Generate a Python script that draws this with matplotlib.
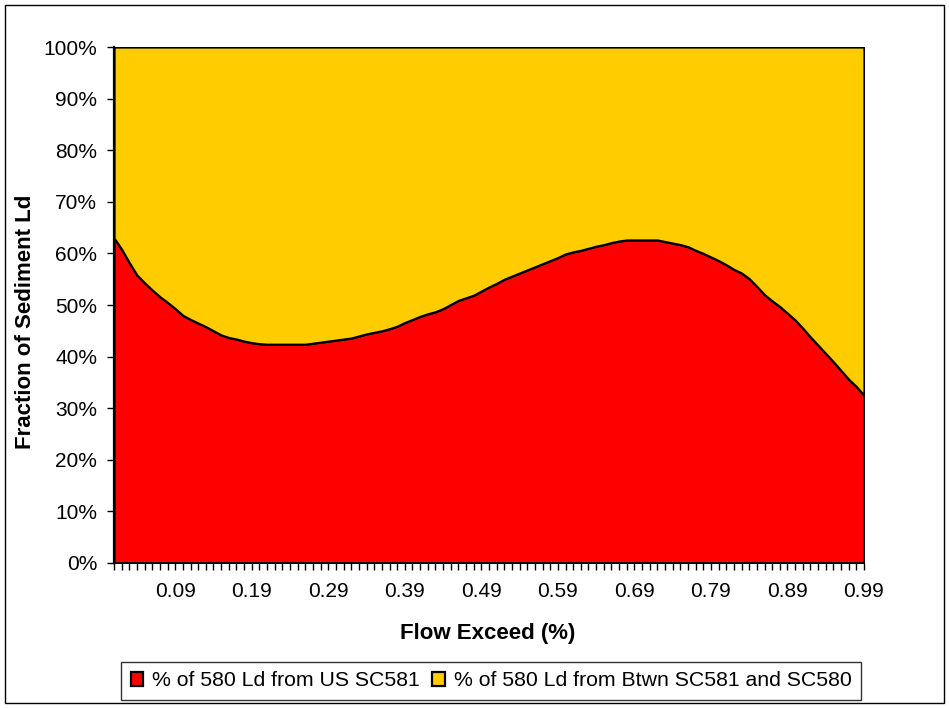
import numpy as np
import matplotlib
matplotlib.use('Agg')
import matplotlib.pyplot as plt
from matplotlib.patches import Rectangle

plt.rcParams['font.family'] = ['Liberation Sans', 'DejaVu Sans']

# flow exceedance categories 0.01 .. 0.99
flow_exceed = [round(0.01 * k, 2) for k in range(1, 100)]

# % of 580 load coming from upstream SC581
pct_us_sc581 = [
    63.0, 60.8, 58.2, 55.8, 54.3, 52.9, 51.6, 50.5, 49.3, 48.0,
    47.2, 46.5, 45.8, 45.0, 44.2, 43.7, 43.4, 43.0, 42.7, 42.5,
    42.4, 42.4, 42.4, 42.4, 42.4, 42.4, 42.6, 42.8, 43.0, 43.2,
    43.4, 43.6, 44.0, 44.4, 44.7, 45.0, 45.4, 45.9, 46.6, 47.2,
    47.8, 48.3, 48.7, 49.3, 50.1, 50.9, 51.4, 51.9, 52.7, 53.5,
    54.2, 55.0, 55.6, 56.2, 56.8, 57.4, 58.0, 58.6, 59.2, 59.9,
    60.3, 60.6, 61.0, 61.4, 61.7, 62.1, 62.4, 62.6, 62.6, 62.6,
    62.6, 62.6, 62.3, 62.0, 61.7, 61.3, 60.6, 60.0, 59.3, 58.6,
    57.8, 56.9, 56.2, 55.1, 53.6, 52.0, 50.8, 49.7, 48.4, 47.1,
    45.5, 43.8, 42.2, 40.6, 39.0, 37.3, 35.6, 34.2, 32.5,
]
# remainder comes from between SC581 and SC580
pct_btwn = [100.0 - v for v in pct_us_sc581]

labels = ['% of 580 Ld from US SC581', '% of 580 Ld from Btwn SC581 and SC580']
colors = ['#FF0000', '#FFCC00']

fig = plt.figure(figsize=(9.49, 7.08), dpi=100)
ax = fig.add_axes([114 / 949, 1 - 563 / 708, 750 / 949, 516 / 708])

x = np.arange(len(flow_exceed))
lower = np.array(pct_us_sc581) / 100.0
upper = lower + np.array(pct_btwn) / 100.0

ax.fill_between(x, 0, lower, facecolor=colors[0], edgecolor='black',
                linewidth=1.6, label=labels[0])
ax.fill_between(x, lower, upper, facecolor=colors[1], edgecolor='black',
                linewidth=1.6, label=labels[1])

ax.set_xlim(0, len(x) - 1)
ax.set_ylim(0, 1)

ax.set_yticks(np.arange(0, 1.01, 0.1))
ax.set_yticklabels(['%d%%' % v for v in range(0, 101, 10)])

major = [i for i, v in enumerate(flow_exceed) if round(v * 100) % 10 == 9]
ax.set_xticks(major)
ax.set_xticklabels(['%.2f' % flow_exceed[i] for i in major])
ax.set_xticks(x, minor=True)

ax.tick_params(axis='y', direction='out', length=5, width=1, labelsize=15, pad=7)
ax.tick_params(axis='x', which='both', direction='out', length=5, width=1,
               labelsize=15, pad=9)

for s in ['top', 'right']:
    ax.spines[s].set_visible(False)
ax.spines['left'].set_linewidth(1.6)
ax.spines['bottom'].set_linewidth(1.2)

ax.set_xlabel('Flow Exceed (%)', fontsize=16, fontweight='bold')
ax.set_ylabel('Fraction of Sediment Ld', fontsize=16, fontweight='bold')
ax.xaxis.set_label_coords((488 - 114) / 750, (563 - 634) / 516)
ax.xaxis.label.set_va('center')
ax.yaxis.set_label_coords((26 - 114) / 750, (563 - 322) / 516)
ax.yaxis.label.set_va('center')

leg = fig.legend(loc='center', bbox_to_anchor=(491 / 949, 1 - 681 / 708),
                 ncol=2, fontsize=15.3, frameon=True, fancybox=False,
                 edgecolor='black', handlelength=0.6, handleheight=0.6,
                 handletextpad=0.4, columnspacing=0.6, borderpad=0.45)
leg.get_frame().set_linewidth(1)

fig.patches.append(Rectangle((5 / 949, 5 / 708), 939 / 949, 698 / 708,
                             transform=fig.transFigure, fill=False,
                             edgecolor='black', linewidth=1))

fig.savefig('out.png', dpi=100)
